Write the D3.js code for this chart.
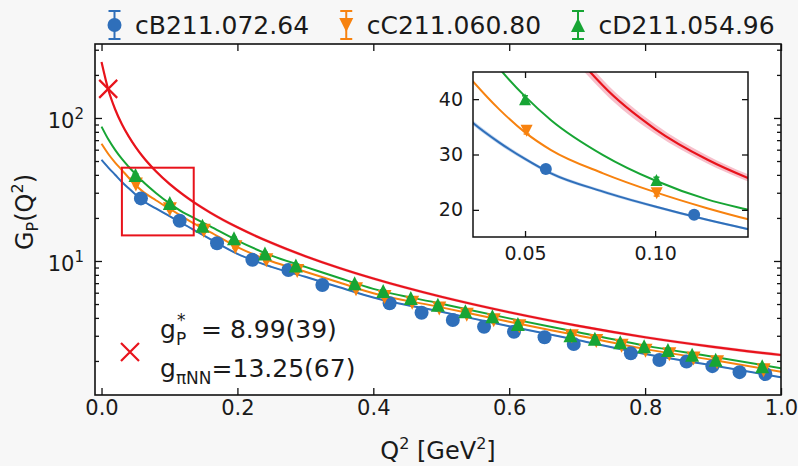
<!DOCTYPE html>
<html>
<head>
<meta charset="utf-8">
<script src="https://cdn.jsdelivr.net/npm/d3@7"></script>
<style>
  body { margin: 0; background: #f7f7f7; }
  svg text { font-family: "DejaVu Sans", sans-serif; fill: #1a1a1a; }
</style>
</head>
<body>
<svg id="chart" width="798" height="466"></svg>
<script>
// ---- ensembles ----
const seriesNames = ["cB211.072.64", "cC211.060.80", "cD211.054.96"];

// lattice points: Q^2 [GeV^2], G_P, error
const q2B  = [0.058, 0.115, 0.170, 0.222, 0.275, 0.325, 0.424, 0.471, 0.517, 0.563, 0.607, 0.652, 0.695, 0.779, 0.821, 0.861, 0.899, 0.939, 0.977];
const gpB  = [27.4, 19.1, 13.3, 10.2, 8.65, 6.8, 5.06, 4.35, 3.87, 3.47, 3.20, 2.93, 2.63, 2.26, 2.03, 1.98, 1.84, 1.67, 1.62];
const errB = [0.6, 0.4, 0.3, 0.25, 0.2, 0.17, 0.13, 0.12, 0.1, 0.1, 0.09, 0.09, 0.08, 0.07, 0.07, 0.07, 0.06, 0.06, 0.06];

const q2C  = [0.0506, 0.1006, 0.1505, 0.197, 0.2425, 0.288, 0.3745, 0.4165, 0.4572, 0.497, 0.5375, 0.5772, 0.6148, 0.6921, 0.7281, 0.7654, 0.8006, 0.8356, 0.8712, 0.9059, 0.9743];
const gpC  = [34.3, 23.0, 16.3, 12.5, 10.1, 8.5, 6.35, 5.6, 5.1, 4.65, 4.2, 3.85, 3.5, 2.98, 2.76, 2.55, 2.36, 2.23, 2.08, 1.96, 1.72];
const errC = [0.6, 0.5, 0.35, 0.25, 0.2, 0.17, 0.13, 0.12, 0.11, 0.1, 0.1, 0.09, 0.09, 0.08, 0.07, 0.07, 0.07, 0.06, 0.06, 0.06, 0.05];

const q2D  = [0.050, 0.1005, 0.1485, 0.195, 0.2405, 0.286, 0.3725, 0.4145, 0.4552, 0.495, 0.5355, 0.5752, 0.6128, 0.6901, 0.7261, 0.7634, 0.7986, 0.8336, 0.8692, 0.9039, 0.9723];
const gpD  = [40.0, 25.4, 17.6, 14.4, 11.3, 9.3, 7.0, 6.17, 5.5, 4.95, 4.45, 4.1, 3.62, 3.03, 2.86, 2.70, 2.53, 2.39, 2.21, 2.04, 1.84];
const errD = [0.6, 0.5, 0.35, 0.25, 0.2, 0.17, 0.13, 0.12, 0.11, 0.1, 0.1, 0.09, 0.09, 0.08, 0.07, 0.07, 0.07, 0.06, 0.06, 0.06, 0.05];

// fitted curves sampled on a common Q^2 grid
const fitQ2  = [0, 0.01, 0.02, 0.03, 0.04, 0.05, 0.06, 0.08, 0.1, 0.12, 0.135, 0.16, 0.2, 0.25, 0.3, 0.35, 0.4, 0.5, 0.6, 0.7, 0.8, 0.9, 1.0];
const fitB   = [51, 45.0, 40.1, 35.7, 32.2, 29.2, 26.6, 23.3, 20.6, 18.2, 16.6, 14.2, 11.2, 9.1, 7.75, 6.55, 5.55, 4.41, 3.5, 2.8, 2.24, 1.86, 1.54];
const fitC   = [66, 56, 48.8, 43.2, 38.2, 34.0, 30.8, 26.6, 23.2, 20.3, 18.4, 15.9, 12.5, 9.95, 8.4, 7.07, 5.95, 4.74, 3.76, 3.02, 2.42, 2.03, 1.68];
const fitD   = [87, 70.9, 59.8, 51.7, 45.6, 40.5, 36.2, 29.9, 25.3, 21.9, 20.1, 17.45, 13.9, 10.9, 9.1, 7.6, 6.38, 5.03, 3.97, 3.19, 2.56, 2.14, 1.78];
// pion-pole dominance curve
const fitPPD = [246, 157.4, 115.1, 90.4, 74.3, 62.8, 54.2, 42.4, 34.6, 29.1, 25.9, 21.8, 17.2, 13.4, 10.8, 8.93, 7.54, 5.62, 4.38, 3.53, 2.93, 2.51, 2.20];
const bandRelPPD = 0.025;   // relative half-width of the PPD band
const bandRelB = 0.012;     // relative half-width of the cB211 band

// couplings
const gPStar = 8.99, gPStarErr = "39";
const gPiNN = 13.25, gPiNNErr = "67";
const muonMass = 0.10566, nucleonMass = 0.9389;   // GeV

// ticks
const xTicks = [0, 0.2, 0.4, 0.6, 0.8, 1.0];
const yMajor = [10, 100];
const yMajorExp = ["1", "2"];
const insetXTicks = [0.05, 0.10];
const insetYTicks = [20, 30, 40];

// ---- drawing ----
const colors = ["#2f6fba", "#f7820f", "#17a534"];
const red = "#e8131b";
const W = 798, H = 466;
const M = { left: 95, right: 781, top: 44, bottom: 395 };
const svg = d3.select("#chart");

const x = d3.scaleLinear().domain([-0.0096, 1.0]).range([M.left, M.right]);
const y = d3.scaleLog().domain([1.156, 329]).range([M.bottom, M.top]);

const I = { left: 473, right: 748, top: 72, bottom: 237 };
const xi = d3.scaleLinear().domain([0.03, 0.1357]).range([I.left, I.right]);
const yi = d3.scaleLinear().domain([15.1, 44.9]).range([I.bottom, I.top]);

svg.append("rect").attr("width", W).attr("height", H).attr("fill", "#f7f7f7");
svg.append("rect").attr("x", M.left).attr("y", M.top)
  .attr("width", M.right - M.left).attr("height", M.bottom - M.top).attr("fill", "#fff");

const defs = svg.append("defs");
defs.append("clipPath").attr("id", "clipMain").append("rect")
  .attr("x", M.left).attr("y", M.top).attr("width", M.right - M.left).attr("height", M.bottom - M.top);
defs.append("clipPath").attr("id", "clipInset").append("rect")
  .attr("x", I.left).attr("y", I.top).attr("width", I.right - I.left).attr("height", I.bottom - I.top);

const fits = [fitB, fitC, fitD];
const pts = [
  { q: q2B, v: gpB, e: errB, shape: "circle" },
  { q: q2C, v: gpC, e: errC, shape: "down" },
  { q: q2D, v: gpD, e: errD, shape: "up" }
];

function markerPath(shape, s) {
  if (shape === "up") return `M0,${-s}L${-s},${s}L${s},${s}Z`;
  if (shape === "down") return `M0,${s}L${-s},${-s}L${s},${-s}Z`;
  return null;
}

function drawPanel(g, sx, sy, clipId, msize) {
  const area = g.append("g").attr("clip-path", `url(#${clipId})`);
  const line = d3.line().x(d => sx(d[0])).y(d => sy(d[1])).curve(d3.curveMonotoneX);
  const band = d3.area().x(d => sx(d[0])).y0(d => sy(d[1] * (1 - d[2]))).y1(d => sy(d[1] * (1 + d[2])))
    .curve(d3.curveMonotoneX);

  area.append("path").datum(fitQ2.map((q, i) => [q, fitB[i], bandRelB]))
    .attr("d", band).attr("fill", "#a9c6ea").attr("opacity", 0.7);
  area.append("path").datum(fitQ2.map((q, i) => [q, fitPPD[i], bandRelPPD]))
    .attr("d", band).attr("fill", "#f3a5b5").attr("opacity", 0.7);

  fits.forEach((f, k) => {
    area.append("path").datum(fitQ2.map((q, i) => [q, f[i]]))
      .attr("d", line).attr("fill", "none").attr("stroke", colors[k]).attr("stroke-width", 2);
  });
  area.append("path").datum(fitQ2.map((q, i) => [q, fitPPD[i]]))
    .attr("d", line).attr("fill", "none").attr("stroke", red).attr("stroke-width", 2.2);

  pts.forEach((s, k) => {
    const grp = area.append("g").attr("fill", colors[k]).attr("stroke", colors[k]);
    s.q.forEach((q, i) => {
      const cx = sx(q), cy = sy(s.v[i]);
      const y0 = sy(s.v[i] - s.e[i]), y1 = sy(s.v[i] + s.e[i]);
      grp.append("line").attr("x1", cx).attr("x2", cx).attr("y1", y0).attr("y2", y1).attr("stroke-width", 1.5);
      grp.append("line").attr("x1", cx - 3).attr("x2", cx + 3).attr("y1", y0).attr("y2", y0).attr("stroke-width", 1.5);
      grp.append("line").attr("x1", cx - 3).attr("x2", cx + 3).attr("y1", y1).attr("y2", y1).attr("stroke-width", 1.5);
      if (s.shape === "circle") {
        grp.append("circle").attr("cx", cx).attr("cy", cy).attr("r", msize).attr("stroke", "none");
      } else {
        grp.append("path").attr("d", markerPath(s.shape, msize)).attr("transform", `translate(${cx},${cy})`)
          .attr("stroke", "none");
      }
    });
  });
  return area;
}

// main panel
const main = svg.append("g");
const mainArea = drawPanel(main, x, y, "clipMain", 7);

// muon-capture point
const q2Star = 0.88 * muonMass * muonMass;
const gpAtStar = gPStar * 2 * nucleonMass / muonMass;
const cross = "M-9,-9L9,9M-9,9L9,-9";
mainArea.append("path").attr("d", cross)
  .attr("transform", `translate(${x(q2Star)},${y(gpAtStar)})`)
  .attr("stroke", red).attr("stroke-width", 2.2).attr("fill", "none");

// zoom window marker
main.append("rect")
  .attr("x", x(xi.domain()[0])).attr("y", y(yi.domain()[1]))
  .attr("width", x(xi.domain()[1]) - x(xi.domain()[0]))
  .attr("height", y(yi.domain()[0]) - y(yi.domain()[1]))
  .attr("fill", "none").attr("stroke", red).attr("stroke-width", 2);

// main axes ticks (inward on all four sides)
function styleAxis(sel) {
  sel.select(".domain").remove();
  sel.selectAll(".tick line").attr("stroke", "#111").attr("stroke-width", 1.3);
}
const minorY = [];
[1, 10, 100].forEach(dec => d3.range(2, 10).forEach(k => {
  const v = k * dec;
  if (v > y.domain()[0] && v < y.domain()[1]) minorY.push(v);
}));

main.append("g").attr("transform", `translate(0,${M.bottom})`)
  .call(d3.axisBottom(x).tickValues(xTicks).tickSize(-7).tickPadding(5).tickFormat(d3.format(".1f")))
  .call(styleAxis)
  .call(g => g.selectAll("text").attr("font-size", 21).attr("font-family", "DejaVu Sans").attr("fill", "#1a1a1a"));
main.append("g").attr("transform", `translate(0,${M.top})`)
  .call(d3.axisTop(x).tickValues(xTicks).tickSize(-7).tickFormat("")).call(styleAxis);
[["left", M.left], ["right", M.right]].forEach(([side, px]) => {
  const mk = side === "left" ? d3.axisLeft : d3.axisRight;
  main.append("g").attr("transform", `translate(${px},0)`)
    .call(mk(y).tickValues(yMajor).tickSize(-7).tickFormat("")).call(styleAxis);
  main.append("g").attr("transform", `translate(${px},0)`)
    .call(mk(y).tickValues(minorY).tickSize(-4).tickFormat("")).call(styleAxis);
});
yMajor.forEach((v, i) => {
  const t = main.append("text").attr("x", 84).attr("y", y(v) + 10)
    .attr("text-anchor", "end").attr("font-size", 21);
  t.append("tspan").text("10");
  t.append("tspan").attr("dy", -9).attr("font-size", 15).text(yMajorExp[i]);
});
main.append("rect").attr("x", M.left).attr("y", M.top)
  .attr("width", M.right - M.left).attr("height", M.bottom - M.top)
  .attr("fill", "none").attr("stroke", "#111").attr("stroke-width", 1.6);

// axis titles
const xl = svg.append("text").attr("x", (M.left + M.right) / 2).attr("y", 459)
  .attr("text-anchor", "middle").attr("font-size", 24);
xl.append("tspan").text("Q");
xl.append("tspan").attr("dy", -10).attr("font-size", 16).text("2");
xl.append("tspan").attr("dy", 10).text(" [GeV");
xl.append("tspan").attr("dy", -10).attr("font-size", 16).text("2");
xl.append("tspan").attr("dy", 10).text("]");

const yl = svg.append("text").attr("transform", "translate(33,212) rotate(-90)")
  .attr("text-anchor", "middle").attr("font-size", 24);
yl.append("tspan").text("G");
yl.append("tspan").attr("dy", 5).attr("font-size", 16).text("P");
yl.append("tspan").attr("dy", -5).text("(Q");
yl.append("tspan").attr("dy", -10).attr("font-size", 16).text("2");
yl.append("tspan").attr("dy", 10).text(")");

// coupling annotation
const ann = svg.append("g");
ann.append("path").attr("d", cross).attr("transform", "translate(130,352)")
  .attr("stroke", red).attr("stroke-width", 2.2).attr("fill", "none");
const g1 = ann.append("text").attr("x", 160).attr("y", 338).attr("font-size", 25).text("g");
const gw = g1.node().getComputedTextLength();
ann.append("text").attr("x", 160 + gw).attr("y", 345).attr("font-size", 17).text("P");
ann.append("text").attr("x", 160 + gw + 1).attr("y", 326).attr("font-size", 17).text("*");
ann.append("text").attr("x", 201).attr("y", 338).attr("font-size", 25)
  .text(`= ${gPStar.toFixed(2)}(${gPStarErr})`);
ann.append("text").attr("x", 160).attr("y", 377).attr("font-size", 25).text("g");
const sub2 = ann.append("text").attr("x", 160 + gw).attr("y", 384).attr("font-size", 17).text("πNN");
const sw = sub2.node().getComputedTextLength();
ann.append("text").attr("x", 160 + gw + sw).attr("y", 377).attr("font-size", 25)
  .text(`=${gPiNN.toFixed(2)}(${gPiNNErr})`);

// inset panel
const inset = svg.append("g");
inset.append("rect").attr("x", I.left).attr("y", I.top)
  .attr("width", I.right - I.left).attr("height", I.bottom - I.top).attr("fill", "#fff");
drawPanel(inset, xi, yi, "clipInset", 6);
inset.append("g").attr("transform", `translate(0,${I.bottom})`)
  .call(d3.axisBottom(xi).tickValues(insetXTicks).tickSize(-6).tickPadding(10).tickFormat(d3.format(".2f")))
  .call(styleAxis)
  .call(g => g.selectAll("text").attr("font-size", 19).attr("font-family", "DejaVu Sans").attr("fill", "#1a1a1a"));
inset.append("g").attr("transform", `translate(0,${I.top})`)
  .call(d3.axisTop(xi).tickValues(insetXTicks).tickSize(-6).tickFormat("")).call(styleAxis);
inset.append("g").attr("transform", `translate(${I.left},0)`)
  .call(d3.axisLeft(yi).tickValues(insetYTicks).tickSize(-6).tickPadding(10).tickFormat(d3.format("d")))
  .call(styleAxis)
  .call(g => g.selectAll("text").attr("font-size", 19).attr("font-family", "DejaVu Sans").attr("fill", "#1a1a1a"));
inset.append("g").attr("transform", `translate(${I.right},0)`)
  .call(d3.axisRight(yi).tickValues(insetYTicks).tickSize(-6).tickFormat("")).call(styleAxis);
inset.append("rect").attr("x", I.left).attr("y", I.top)
  .attr("width", I.right - I.left).attr("height", I.bottom - I.top)
  .attr("fill", "none").attr("stroke", "#111").attr("stroke-width", 1.5);

// legend
const legX = [114.5, 346.25, 578];
seriesNames.forEach((name, k) => {
  const g = svg.append("g").attr("transform", `translate(${legX[k]},25)`)
    .attr("stroke", colors[k]).attr("fill", colors[k]);
  g.append("line").attr("y1", -14).attr("y2", 14).attr("stroke-width", 2);
  g.append("line").attr("x1", -6).attr("x2", 6).attr("y1", -14).attr("y2", -14).attr("stroke-width", 2);
  g.append("line").attr("x1", -6).attr("x2", 6).attr("y1", 14).attr("y2", 14).attr("stroke-width", 2);
  const shape = pts[k].shape;
  if (shape === "circle") g.append("circle").attr("r", 7).attr("stroke", "none");
  else g.append("path").attr("d", markerPath(shape, 7)).attr("stroke", "none");
  svg.append("text").attr("x", legX[k] + 20.5).attr("y", 34).attr("font-size", 25).text(name);
});
</script>
</body>
</html>
